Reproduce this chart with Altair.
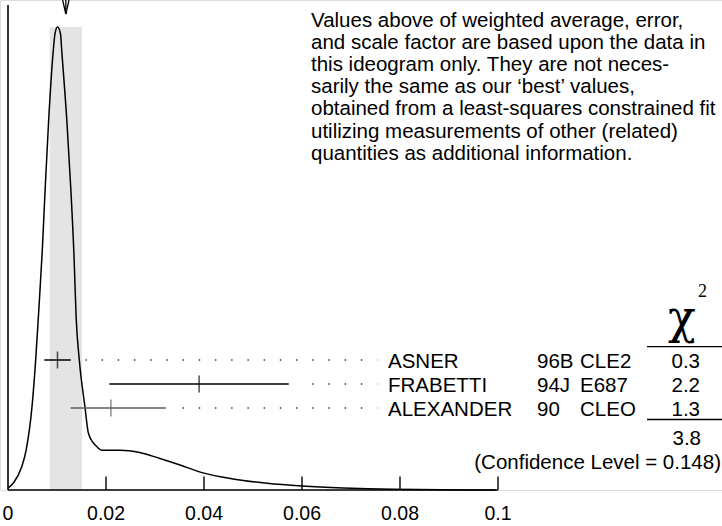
import math
import altair as alt
import pandas as pd

# ---------------- data ----------------
names = ["ASNER", "FRABETTI", "ALEXANDER"]
refs = ["96B", "94J", "90"]
exps = ["CLE2", "E687", "CLEO"]
values = [0.0101, 0.039, 0.021]
errors_minus = [0.0027, 0.0183, 0.0082]
errors_plus = [0.0027, 0.0183, 0.0112]
chi2 = ["0.3", "2.2", "1.3"]
chi2_total = "3.8"
conf_level = "(Confidence Level = 0.148)"

avg = 0.0118
avg_err = 0.0033

curve_x = [0.0, 0.0011, 0.0028, 0.0037, 0.0049, 0.00565, 0.0062, 0.0070, 0.0076,
           0.0083, 0.0092, 0.0096, 0.0101, 0.0107, 0.0110, 0.0120, 0.0128, 0.0135,
           0.0139, 0.01455, 0.0157, 0.0164, 0.0174, 0.0182, 0.0191, 0.0229, 0.0269,
           0.0310, 0.0351, 0.0398, 0.0459, 0.0529, 0.0600, 0.0684, 0.0786, 0.0995]
curve_y = [0.004, 0.015, 0.050, 0.086, 0.180, 0.281, 0.374, 0.518, 0.654,
           0.799, 0.944, 0.986, 1.000, 0.986, 0.944, 0.799, 0.654, 0.497,
           0.374, 0.281, 0.180, 0.123, 0.102, 0.093, 0.086, 0.086, 0.081,
           0.068, 0.054, 0.037, 0.024, 0.0145, 0.0086, 0.0043, 0.0015, 0.0]

tick_values = [0, 0.02, 0.04, 0.06, 0.08, 0.1]
tick_labels = ["0", "0.02", "0.04", "0.06", "0.08", "0.1"]

note_lines = [
    "Values above of weighted average, error,",
    "and scale factor are based upon the data in",
    "this ideogram only.  They are not neces-",
    "sarily the same as our \u2018best\u2019 values,",
    "obtained from a least-squares constrained fit",
    "utilizing measurements of other (related)",
    "quantities as additional information.",
]

# ---------------- layout ----------------
W, H = 722, 490
PX_PER_UNIT = 4900.0
X0 = -8 / PX_PER_UNIT
X1 = (W - 8) / PX_PER_UNIT
YMAX = 490 / 463.0

FONT = "Liberation Sans"
FS = 20.5

xs = alt.Scale(domain=[X0, X1], nice=False, zero=False)
ys = alt.Scale(domain=[0, YMAX], nice=False, zero=False)
rows = alt.Scale(type="point", domain=names, range=[360, 408], padding=0)

# dotted leaders anchored on a fixed grid ending at the name column
pitch = 16.2 / PX_PER_UNIT
dot_end = (377 - 8) / PX_PER_UNIT
gap = 12 / PX_PER_UNIT
lo = [v - e for v, e in zip(values, errors_minus)]
hi = [v + e for v, e in zip(values, errors_plus)]
dot_start = []
for h in hi:
    n = math.floor((dot_end - (h + gap)) / pitch)
    dot_start.append(dot_end - n * pitch)

meas = pd.DataFrame({
    "name": names, "ref": refs, "exp": exps, "chi2": chi2,
    "value": values, "lo": lo, "hi": hi, "dot_start": dot_start,
})
curve = pd.DataFrame({"x": curve_x, "y": curve_y})
ticks_df = pd.DataFrame({"t": tick_values, "lab": tick_labels})
one = pd.DataFrame({"a": [0]})

band = alt.Chart(pd.DataFrame({"lo": [avg - avg_err], "hi": [avg + avg_err],
                               "y0": [0.0], "y1": [1.0]})).mark_rect(color="#e4e4e4").encode(
    x=alt.X("lo:Q", scale=xs, axis=None), x2="hi:Q",
    y=alt.Y("y0:Q", scale=ys, axis=None), y2="y1:Q")

base_line = alt.Chart(one).mark_rule(color="black", strokeWidth=1.6).encode(
    x=alt.X(datum=0, scale=xs, axis=None), x2=alt.X2(datum=0.1),
    y=alt.Y(datum=0, scale=ys, axis=None))

left_line = alt.Chart(one).mark_rule(color="black", strokeWidth=1.6).encode(
    x=alt.X(datum=0, scale=xs, axis=None),
    y=alt.Y(datum=0, scale=ys, axis=None), y2=alt.value(5))

ticks = alt.Chart(ticks_df).transform_filter("datum.t > 0").mark_rule(
    color="black", strokeWidth=1.4).encode(
    x=alt.X("t:Q", scale=xs, axis=None),
    y=alt.Y(datum=0, scale=ys, axis=None), y2=alt.value(476.5))

tick_text = alt.Chart(ticks_df).mark_text(font=FONT, fontSize=19.5, align="center",
                                          baseline="alphabetic", color="black").encode(
    x=alt.X("t:Q", scale=xs, axis=None), y=alt.value(520), text="lab:N")

line = alt.Chart(curve).mark_line(color="black", strokeWidth=1.5, interpolate="monotone").encode(
    x=alt.X("x:Q", scale=xs, axis=None), y=alt.Y("y:Q", scale=ys, axis=None))

half = 3.2 / PX_PER_UNIT
arrow_df = pd.DataFrame({"xa": [avg - half, avg, avg + half], "xb": [avg, avg, avg]})
arrow = alt.Chart(arrow_df).mark_rule(color="black", strokeWidth=1.3).encode(
    x=alt.X("xa:Q", scale=xs, axis=None), x2="xb:Q",
    y=alt.value(0), y2=alt.value(14))

bar_color = alt.condition(alt.datum.name == "ALEXANDER", alt.value("#5e5e5e"), alt.value("black"))

bars = alt.Chart(meas).mark_rule(strokeWidth=1.5).encode(
    x=alt.X("lo:Q", scale=xs, axis=None), x2="hi:Q",
    y=alt.Y("name:N", scale=rows, axis=None), color=bar_color)

centers = alt.Chart(meas).mark_tick(thickness=1.5, size=17, orient="vertical").encode(
    x=alt.X("value:Q", scale=xs, axis=None),
    y=alt.Y("name:N", scale=rows, axis=None), color=bar_color)

dots = alt.Chart(meas).mark_rule(color="#333333", strokeWidth=1.4, strokeDash=[1.4, 14.8]).encode(
    x=alt.X("dot_start:Q", scale=xs, axis=None), x2=alt.X2(datum=dot_end + 0.3 / PX_PER_UNIT),
    y=alt.Y("name:N", scale=rows, axis=None))

def col_text(field, xpos, align):
    return alt.Chart(meas).mark_text(font=FONT, fontSize=FS, align=align,
                                     baseline="alphabetic", dy=8, color="black").encode(
        x=alt.value(xpos), y=alt.Y("name:N", scale=rows, axis=None), text=f"{field}:N")

t_names = col_text("name", 388, "left")
t_refs = col_text("ref", 537, "left")
t_exps = col_text("exp", 580, "left")
t_chi = col_text("chi2", 700, "right")

def label(txt, xpos, ypos, align="left", size=FS, font=FONT, **kw):
    return alt.Chart(one).mark_text(font=font, fontSize=size, align=align,
                                    baseline="alphabetic", color="black", **kw).encode(
        x=alt.value(xpos), y=alt.value(ypos), text=alt.value(txt))

chi_head = label("\u03c7", 682, 333, align="center", size=46, font="DejaVu Serif")
chi_sup = label("2", 698, 297, align="left", size=18, font="Liberation Serif")
total = label(chi2_total, 701, 445, align="right")
conf = label(conf_level, 721, 469, align="right")
notes = label(note_lines, 311, 26.5, align="left", lineHeight=22.2)

under = alt.Chart(pd.DataFrame({"yy": [346.7, 419.5]})).mark_rule(
    color="black", strokeWidth=1.3).encode(
    x=alt.value(647), x2=alt.value(722), y=alt.Y("yy:Q", scale=None))

chart = alt.layer(
    band, line, base_line, left_line, ticks, tick_text, arrow, dots, bars, centers,
    t_names, t_refs, t_exps, t_chi, chi_head, chi_sup, under, total, conf, notes,
).resolve_scale(y="independent").properties(
    width=W, height=H,
    padding={"left": 0, "top": 0, "right": 0, "bottom": 36},
    autosize="none",
).configure_view(stroke=None).configure(background="white")

chart.save("out.html", embed_options={"renderer": "svg", "actions": False})
